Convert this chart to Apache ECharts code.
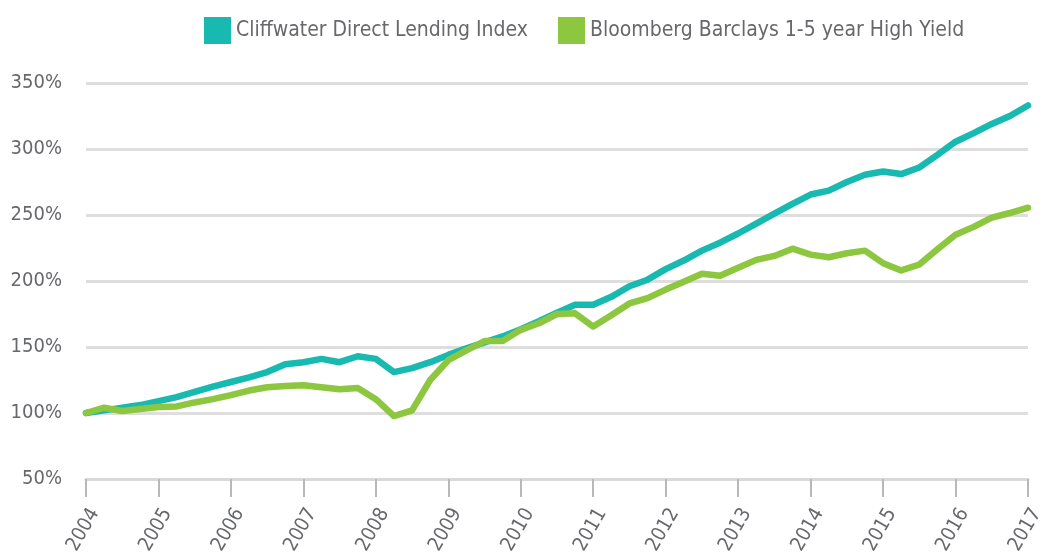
<!DOCTYPE html>
<html>
<head>
<meta charset="utf-8">
<script src="https://cdn.jsdelivr.net/npm/echarts@6/dist/echarts.min.js"></script>
<style>
  html, body { margin: 0; padding: 0; background: #fff; }
  #chart { width: 1043px; height: 553px; }
</style>
</head>
<body>
<div id="chart"></div>
<script>
// year labels, one tick per year, quarterly points between them
var years = ['2004', '2005', '2006', '2007', '2008', '2009', '2010', '2011', '2012', '2013', '2014', '2015', '2016', '2017']

// growth of 100, quarterly
var cliffwater = [
  100, 102, 104, 106, 109, 112, 116, 120, 123.5, 127, 131, 137, 138.5,
  141, 138.5, 143, 141, 131, 134, 138.5, 144, 149, 153.5, 158, 163.5,
  169.5, 176, 182, 182, 188, 196, 201, 209, 215.5, 223, 229, 236,
  243.5, 251, 258.5, 265.5, 268.5, 275, 280.5, 283, 281, 286, 295.5, 305.5,
  312, 319, 325, 333
]
var bloomberg = [
  100, 104, 101.5, 103, 104.5, 105, 108, 110.5, 113.5, 117, 119.5, 120.5, 121,
  119.5, 118, 119, 110.5, 97.7, 102, 125, 140, 147.5, 154.5, 154.5, 163,
  168, 175, 175.5, 165.5, 174, 183, 187, 193.5, 199.5, 205.5, 204, 210,
  216, 219, 224.5, 220, 218, 221, 223, 213.5, 208, 212.5, 224, 235,
  241, 248, 251.5, 255.5
]

var legendNames = ['Cliffwater Direct Lending Index', 'Bloomberg Barclays 1-5 year High Yield']

// quarter categories, year label on the first quarter only
var categories = []
years.forEach(function(y, i) {
  categories.push(y)
  if (i < years.length - 1) {
    categories.push(y + ' Q2', y + ' Q3', y + ' Q4')
  }
})

var font = '"DejaVu Sans Condensed", "Liberation Sans Narrow", "Roboto", sans-serif'
var textColor = '#67686b'

var chart = echarts.init(document.getElementById('chart'))
chart.setOption({
  animation: false,
  textStyle: { fontFamily: font },
  legend: {
    left: 199,
    top: 12,
    itemWidth: 27,
    itemHeight: 27,
    itemGap: 30,
    icon: 'rect',
    textStyle: { color: textColor, fontSize: 21, fontFamily: font },
    data: legendNames
  },
  grid: {
    left: 86,
    right: 15,
    top: 83,
    bottom: 74,
    outerBoundsMode: 'none'
  },
  xAxis: {
    type: 'category',
    data: categories,
    boundaryGap: false,
    axisLine: { lineStyle: { color: '#d9d9d9', width: 3 } },
    axisTick: {
      interval: 3,
      length: 18,
      lineStyle: { color: '#b8b8b8', width: 2 }
    },
    axisLabel: {
      interval: 3,
      rotate: 60,
      margin: 26,
      verticalAlign: 'top',
      color: textColor,
      fontSize: 20,
      fontFamily: font
    }
  },
  yAxis: {
    type: 'value',
    min: 50,
    max: 350,
    interval: 50,
    axisLine: { show: false },
    axisTick: { show: false },
    splitLine: { lineStyle: { color: '#dedede', width: 3 } },
    axisLabel: {
      margin: 24,
      color: textColor,
      fontSize: 20,
      fontFamily: font,
      formatter: '{value}%'
    }
  },
  series: [{
    name: legendNames[0],
    type: 'line',
    data: cliffwater,
    showSymbol: false,
    symbol: 'none',
    color: '#17b9b1',
    lineStyle: { width: 6.5, color: '#17b9b1', cap: 'round', join: 'round' },
    z: 3
  }, {
    name: legendNames[1],
    type: 'line',
    data: bloomberg,
    showSymbol: false,
    symbol: 'none',
    color: '#8dc63f',
    lineStyle: { width: 6.5, color: '#8dc63f', cap: 'round', join: 'round' },
    z: 4
  }]
})
</script>
</body>
</html>
